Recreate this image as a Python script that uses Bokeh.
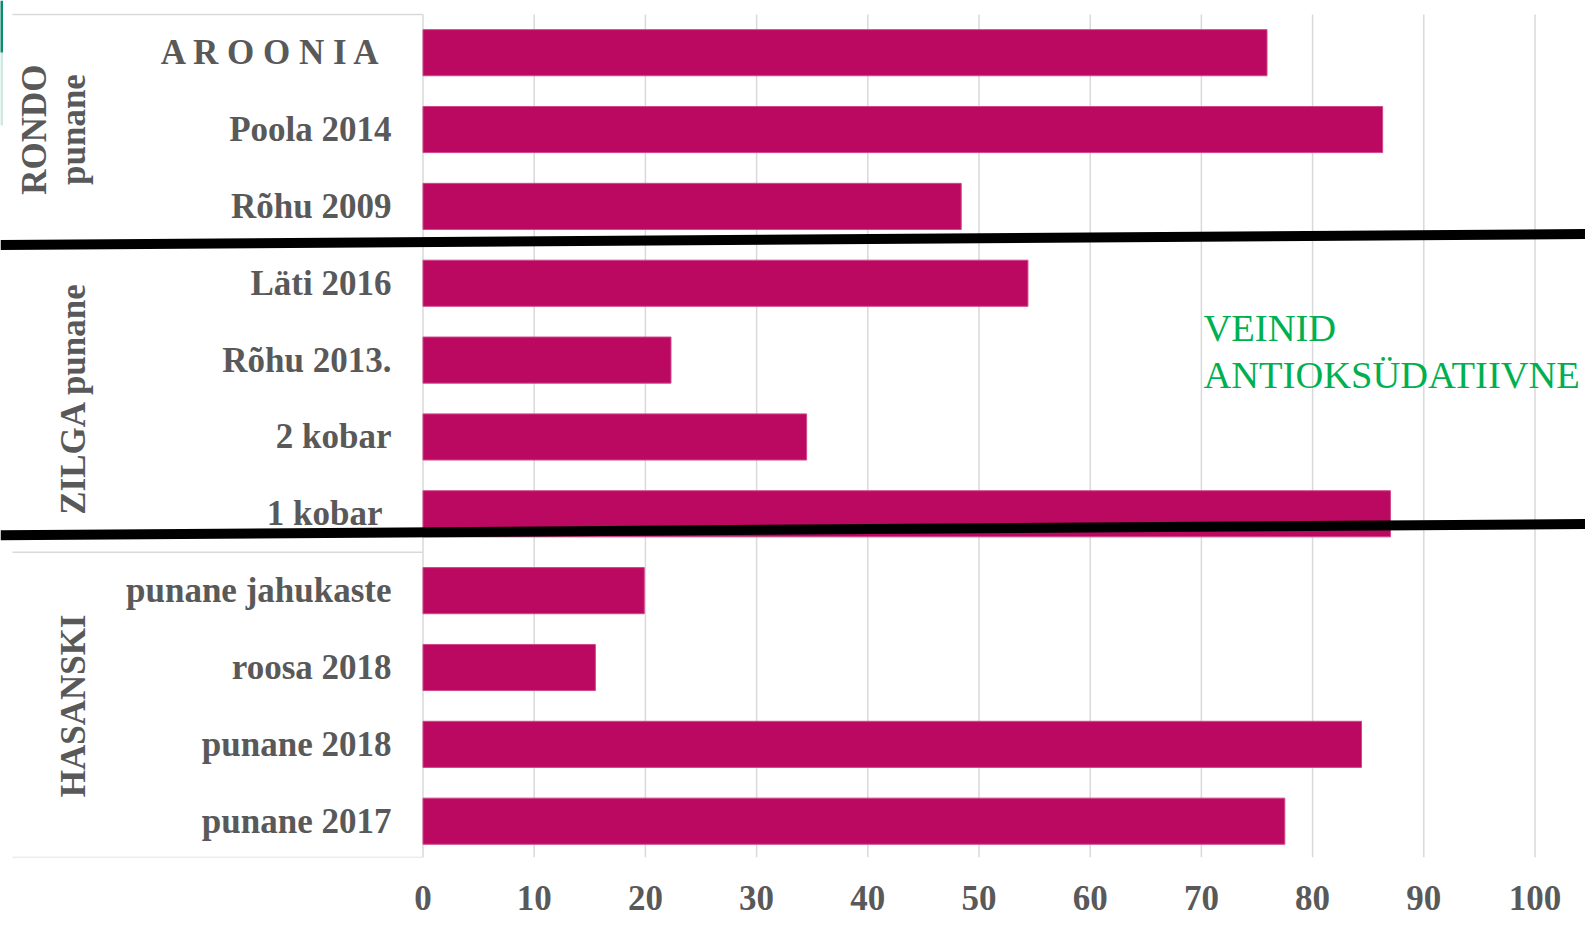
import math
from bokeh.plotting import figure
from bokeh.models import Range1d, FixedTicker, ColumnDataSource
from bokeh.core.properties import value
from bokeh.embed import file_html
from bokeh.resources import INLINE

# ---------------- data ----------------
categories = ["A R O O N I A ", "Poola 2014", "Rõhu 2009", "Läti 2016", "Rõhu 2013.",
              "2 kobar", "1 kobar ", "punane jahukaste", "roosa 2018", "punane 2018",
              "punane 2017"]
values = [75.9, 86.3, 48.4, 54.4, 22.3, 34.5, 87.0, 19.9, 15.5, 84.4, 77.5]
groups = ["RONDO punane", "ZILGA punane", "HASANSKI"]
group_sizes = [3, 4, 4]
x_ticks = [0, 10, 20, 30, 40, 50, 60, 70, 80, 90, 100]
note_lines = ["VEINID", "ANTIOKSÜDATIIVNE"]

# ---------------- styles / layout ----------------
BAR = "#BB0860"
GRAY_TXT = "#595959"
GRID = "#D9D9D9"
GREEN = "#00B050"
FONT = "Liberation Serif"

W, H = 1585, 930
FR_L, FR_R, FR_T, FR_B = 0, W, 0, 857     # frame in picture pixels
PLOT_T = 14                              # top of plot area (gridlines)
X0, PXU = 422.5, 11.12      # picture x of value 0, pixels per unit
Y0, PYU = 52.2, 76.85       # picture y of first bar centre, pixels per category


def dx(px):
    return (px - X0) / PXU


def dy(py):
    return (py - Y0) / PYU


p = figure(width=W, height=H, output_backend="svg", toolbar_location=None,
           x_range=Range1d(dx(FR_L), dx(FR_R)),
           y_range=Range1d(dy(FR_B), dy(FR_T)),
           y_axis_location=None, min_border_left=0, min_border_right=0,
           min_border_top=FR_T, min_border_bottom=H - FR_B)
p.outline_line_color = None
p.background_fill_color = "white"
p.border_fill_color = "white"

p.xgrid.visible = False
p.ygrid.visible = False

ax = p.xaxis[0]
ax.ticker = FixedTicker(ticks=x_ticks)
ax.axis_line_color = None
ax.major_tick_line_color = None
ax.minor_tick_line_color = None
ax.major_label_standoff = 22
ax.major_label_text_font = FONT
ax.major_label_text_font_style = "bold"
ax.major_label_text_font_size = "35px"
ax.major_label_text_color = GRAY_TXT

idx = list(range(len(categories)))

# vertical gridlines
p.segment(x0=x_ticks, x1=x_ticks, y0=[dy(PLOT_T)] * len(x_ticks),
          y1=[dy(FR_B)] * len(x_ticks), line_color=GRID, line_width=1.5)

# category box lines (left panel)
bounds = [dy(PLOT_T)]
acc = 0
for s in group_sizes[:-1]:
    acc += s
    bounds.append(acc - 0.5)
bounds.append(dy(FR_B))
p.segment(x0=[dx(12)] * len(bounds), x1=[0] * len(bounds), y0=bounds, y1=bounds,
          line_color=GRID, line_width=1.5)

# bars
p.hbar(y=idx, left=0, right=values, height=0.6, fill_color=BAR,
       line_color="#D0478A", line_width=1)

# category labels
lab_src = ColumnDataSource(dict(
    y=idx,
    text=[c.rstrip() for c in categories],
    xo=[-9 if c.endswith(" ") else 0 for c in categories],
))
p.text(x=dx(391), y="y", text="text", x_offset="xo", source=lab_src,
       text_align="right", text_baseline="middle",
       text_font=value(FONT), text_font_style=value("bold"),
       text_font_size="35px", text_color=GRAY_TXT)

# group labels (rotated)
start = 0
for name, size in zip(groups, group_sizes):
    centre = start + (size - 1) / 2
    lines = name.split(" ") if size < 4 else [name]
    n = len(lines)
    for k, ln in enumerate(lines):
        base_px = 73 - (n - 1 - k) * 39
        p.text(x=[dx(base_px)], y=[centre], text=[ln], angle=math.pi / 2,
               text_align="center", text_baseline="alphabetic",
               text_font=value(FONT), text_font_style=value("bold"),
               text_font_size="35px", text_color=GRAY_TXT)
    start += size

# black divider strokes
def yline(px, a, b):
    return a + (b - a) * px / 1585.0

p.segment(x0=[dx(FR_L)] * 2, x1=[dx(FR_R)] * 2,
          y0=[dy(yline(FR_L, 244.6, 233.5)), dy(yline(FR_L, 534.7, 523.6))],
          y1=[dy(yline(FR_R, 244.6, 233.5)), dy(yline(FR_R, 534.7, 523.6))],
          line_color="black", line_width=10)

# remnant of a teal shape at the top-left edge
p.segment(x0=[dx(1), dx(1)], x1=[dx(1), dx(1)], y0=[dy(0), dy(52)], y1=[dy(52), dy(125)],
          line_color="#0E8A6F", line_width=3, line_alpha=[1.0, 0.2])

# green annotation
p.text(x=[dx(1203)] * 2, y=[dy(327), dy(374)], text=note_lines,
       text_align="left", text_baseline="alphabetic",
       text_font=value(FONT), text_font_size="38.5px", text_color=GREEN)

open("out.html", "w").write(file_html(p, INLINE))
